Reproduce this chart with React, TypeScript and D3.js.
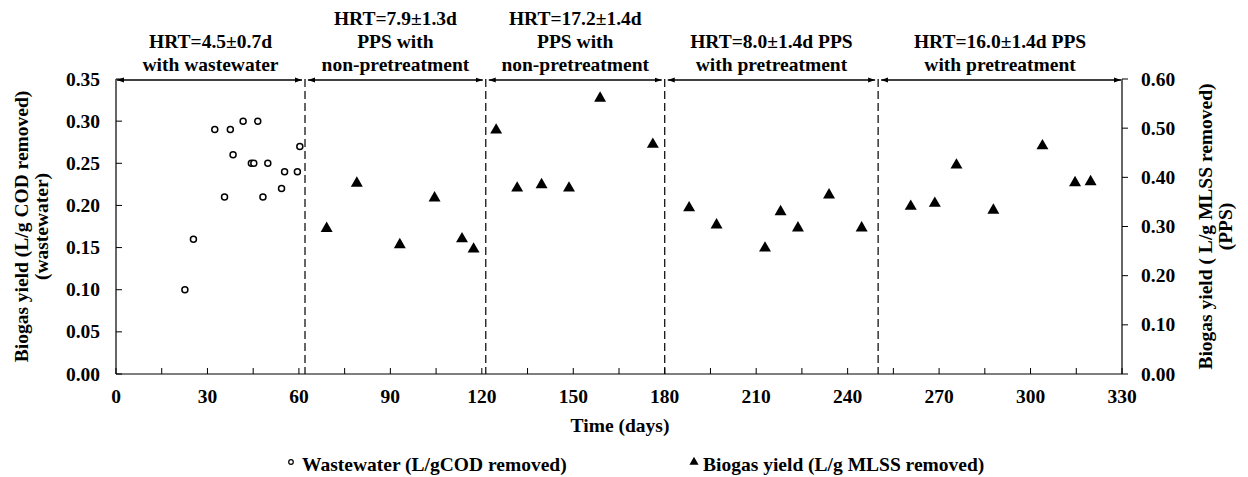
import React from "react";
import * as d3 from "d3";

const wastewaterDays = [22.6, 25.4, 32.4, 37.5, 41.7, 46.5, 38.4, 35.6, 44.4, 45.2, 49.8, 48.2, 54.3, 55.3, 59.5, 60.3];
const wastewaterYield = [0.10, 0.16, 0.29, 0.29, 0.30, 0.30, 0.26, 0.21, 0.25, 0.25, 0.25, 0.21, 0.22, 0.24, 0.24, 0.27];

const ppsDays = [69.1, 79, 93.1, 104.5, 113.5, 117.3, 124.7, 131.6, 139.6, 148.6, 158.8, 176.1, 188, 197, 212.9, 218, 223.7, 233.9, 244.6, 260.7, 268.6, 275.7, 287.8, 303.9, 314.6, 319.7];
const ppsYield = [0.296, 0.388, 0.263, 0.358, 0.275, 0.254, 0.496, 0.378, 0.385, 0.378, 0.561, 0.467, 0.338, 0.303, 0.256, 0.330, 0.297, 0.364, 0.297, 0.341, 0.347, 0.425, 0.333, 0.464, 0.389, 0.391];

const phaseBounds = [0, 62, 121.3, 180, 250, 330];
const phaseLabels = [
  ["HRT=4.5±0.7d", "with wastewater"],
  ["HRT=7.9±1.3d", "PPS with", "non-pretreatment"],
  ["HRT=17.2±1.4d", "PPS with", "non-pretreatment"],
  ["HRT=8.0±1.4d PPS", "with pretreatment"],
  ["HRT=16.0±1.4d PPS", "with pretreatment"],
];

const xTicks = [0, 30, 60, 90, 120, 150, 180, 210, 240, 270, 300, 330];
const xMinorTicks = d3.range(0, 331, 15);
const leftTicks = [0, 0.05, 0.1, 0.15, 0.2, 0.25, 0.3, 0.35];
const rightTicks = [0, 0.1, 0.2, 0.3, 0.4, 0.5, 0.6];

const W = 1248;
const H = 477;
const L = 116, R = 1122, T = 79, B = 374;
const FONT = "'Liberation Serif', 'Times New Roman', serif";

export default function App() {
  const x = d3.scaleLinear().domain([0, 330]).range([L, R]);
  const yL = d3.scaleLinear().domain([0, 0.35]).range([B, T]);
  const yR = d3.scaleLinear().domain([0, 0.6]).range([B, T]);
  const tri = d3.symbol().type(d3.symbolTriangle).size(62)() as string;
  const triSmall = d3.symbol().type(d3.symbolTriangle).size(36)() as string;

  return (
    <svg width={W} height={H} style={{ position: "absolute", left: 0, top: 0, background: "#fff" }} fontFamily={FONT} fontWeight="bold">
      <defs>
        <marker id="ah" viewBox="0 0 10 10" refX="10" refY="5" markerWidth="7" markerHeight="7" orient="auto-start-reverse" markerUnits="userSpaceOnUse">
          <path d="M0,1.5 L10,5 L0,8.5 Z" fill="#000" />
        </marker>
      </defs>
      <rect width={W} height={H} fill="#fff" />
      {/* axes */}
      <line x1={L} x2={L} y1={T} y2={B} stroke="#000" strokeWidth={1.2} />
      <line x1={R} x2={R} y1={T} y2={B} stroke="#000" strokeWidth={1.2} />
      <line x1={L} x2={R} y1={B} y2={B} stroke="#000" strokeWidth={1.2} />
      {/* x ticks */}
      {xMinorTicks.map((t) => (
        <line key={"xm" + t} x1={x(t)} x2={x(t)} y1={B} y2={B - 6} stroke="#000" strokeWidth={1} />
      ))}
      {xTicks.map((t) => (
        <text key={"xt" + t} x={x(t)} y={403} fontSize={19.5} textAnchor="middle">{t}</text>
      ))}
      {/* left ticks */}
      {leftTicks.map((t) => (
        <g key={"lt" + t}>
          <line x1={L} x2={L + 6} y1={yL(t)} y2={yL(t)} stroke="#000" strokeWidth={1} />
          <text x={100} y={yL(t) + 6.5} fontSize={19.5} textAnchor="end">{t.toFixed(2)}</text>
        </g>
      ))}
      {/* right ticks */}
      {rightTicks.map((t) => (
        <g key={"rt" + t}>
          <line x1={R} x2={R + 6} y1={yR(t)} y2={yR(t)} stroke="#000" strokeWidth={1} />
          <text x={1141} y={yR(t) + 6.5} fontSize={19.5} textAnchor="start">{t.toFixed(2)}</text>
        </g>
      ))}
      {/* phase separators */}
      {phaseBounds.slice(1, -1).map((b) => (
        <line key={"pb" + b} x1={x(b)} x2={x(b)} y1={T} y2={B} stroke="#000" strokeWidth={1.2} strokeDasharray="8,4" />
      ))}
      {/* arrows and labels */}
      {phaseLabels.map((lines, i) => {
        const a = x(phaseBounds[i]);
        const b = x(phaseBounds[i + 1]);
        const x1 = i === 0 ? a + 1 : a + 3;
        const x2 = i === phaseLabels.length - 1 ? b - 1 : b - 3;
        const cx = (a + b) / 2;
        const n = lines.length;
        return (
          <g key={"ph" + i}>
            <line x1={x1} x2={x2} y1={T + 1} y2={T + 1} stroke="#000" strokeWidth={1.3} markerStart="url(#ah)" markerEnd="url(#ah)" />
            {lines.map((s, j) => (
              <text key={j} x={cx} y={71 - (n - 1 - j) * 23} fontSize={19.5} textAnchor="middle">{s}</text>
            ))}
          </g>
        );
      })}
      {/* data: wastewater */}
      {wastewaterDays.map((d, i) => (
        <circle key={"w" + i} cx={x(d)} cy={yL(wastewaterYield[i])} r={3} fill="#fff" stroke="#000" strokeWidth={1.5} />
      ))}
      {/* data: PPS */}
      {ppsDays.map((d, i) => (
        <path key={"p" + i} d={tri} transform={`translate(${x(d)},${yR(ppsYield[i])})`} fill="#000" />
      ))}
      {/* axis titles */}
      <text x={620} y={432} fontSize={19.5} textAnchor="middle">Time (days)</text>
      <g transform={`translate(22,${(T + B) / 2}) rotate(-90)`}>
        <text x={0} y={6} fontSize={19.5} textAnchor="middle">Biogas yield (L/g COD removed)</text>
        <text x={0} y={26} fontSize={19.5} textAnchor="middle">(wastewater)</text>
      </g>
      <g transform={`translate(1206,${(T + B) / 2}) rotate(-90)`}>
        <text x={0} y={6} fontSize={19.5} textAnchor="middle">Biogas yield ( L/g MLSS removed)</text>
        <text x={0} y={26} fontSize={19.5} textAnchor="middle">(PPS)</text>
      </g>
      {/* legend */}
      <circle cx={291} cy={462} r={2.3} fill="#fff" stroke="#000" strokeWidth={1.2} />
      <text x={302} y={471} fontSize={19.5}>Wastewater (L/gCOD removed)</text>
      <path d={triSmall} transform="translate(694,462)" fill="#000" />
      <text x={703} y={471} fontSize={19.5}>Biogas yield (L/g MLSS removed)</text>
    </svg>
  );
}
